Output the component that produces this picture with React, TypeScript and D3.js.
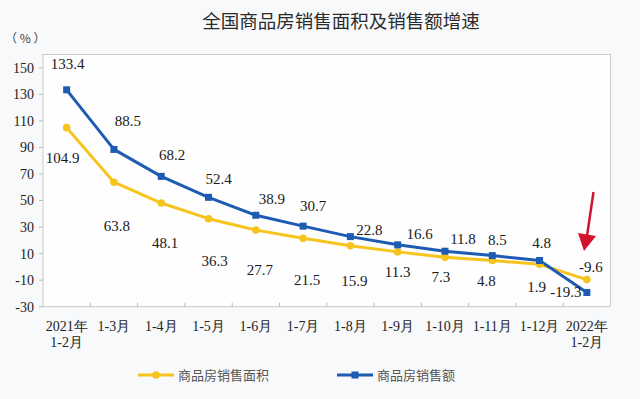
import React from "react";
import * as d3 from "d3";

const months = [
  "1-2月", "1-3月", "1-4月", "1-5月", "1-6月", "1-7月",
  "1-8月", "1-9月", "1-10月", "1-11月", "1-12月", "1-2月",
];
const yearLabels = ["2021年", "", "", "", "", "", "", "", "", "", "", "2022年"];
const areaGrowth = [104.9, 63.8, 48.1, 36.3, 27.7, 21.5, 15.9, 11.3, 7.3, 4.8, 1.9, -9.6];
const salesGrowth = [133.4, 88.5, 68.2, 52.4, 38.9, 30.7, 22.8, 16.6, 11.8, 8.5, 4.8, -19.3];
const yTicks = [150, 130, 110, 90, 70, 50, 30, 10, -10, -30];

// label placement, pixels from each point (hand placed like the original)
const salesLabelOffset = [
  [1, -26], [14, -29], [11, -22], [10, -19], [16, -16], [10, -20],
  [19, -7], [22, -11], [18, -12], [5, -16], [2, -18], [-21, -1],
];
const areaLabelOffset = [
  [-4, 30], [3, 44], [4, 40], [6, 42], [4, 40], [4, 41],
  [4, 35], [0, 20], [-4, 20], [-6, 20], [-3, 22], [4, -13],
];

const W = 640;
const H = 399;
const left = 43;
const right = 610.5;
const top = 54.5;
const bottom = 306.7;

const yellow = "#F6C41C";
const blue = "#1E5BB3";
const serif = "'Liberation Serif', 'Times New Roman', serif";
const cjk = "'Noto Sans CJK SC', sans-serif";

export default function App() {
  const x = d3.scaleBand<number>()
    .domain(d3.range(months.length))
    .range([left, right]);
  const y = d3.scaleLinear().domain([-30, 160]).range([bottom, top]);
  const cx = (i: number) => (x(i) as number) + x.bandwidth() / 2;

  const line = d3.line<number>()
    .x((_, i) => cx(i))
    .y((d) => y(d));

  const legendItems = [
    { name: "商品房销售面积", color: yellow, x: 138, square: false },
    { name: "商品房销售额", color: blue, x: 337, square: true },
  ];

  const num = { fontFamily: serif };

  return (
    <svg width={W} height={H} style={{ position: "absolute", left: 0, top: 0, display: "block" }}>
      <rect width={W} height={H} fill="#f8f9fb" />
      <rect x={left} y={top} width={right - left} height={bottom - top} fill="#fefefe" stroke="#c9c9c9" strokeWidth={1} />

      <text x={341} y={28} textAnchor="middle" style={{ fontFamily: cjk }} fontSize={18.5} fill="#2b2b2b">
        全国商品房销售面积及销售额增速
      </text>
      <text x={5} y={43} style={{ fontFamily: cjk }} fontSize={12} fill="#444">（ % ）</text>

      {yTicks.map((t) => (
        <g key={t}>
          <line x1={left - 4} x2={left} y1={y(t)} y2={y(t)} stroke="#bbb" />
          <text x={34} y={y(t)} dy="0.35em" textAnchor="end" style={num} fontSize={14} fill="#222">
            {t}
          </text>
        </g>
      ))}

      {d3.range(1, months.length).map((i) => (
        <line key={i} x1={x(i)} x2={x(i)} y1={bottom} y2={bottom - 4} stroke="#bbb" />
      ))}

      {months.map((m, i) => (
        <g key={i} style={num} fontSize={14} fill="#222" textAnchor="middle">
          {yearLabels[i] ? (
            <>
              <text x={cx(i)} y={331}>{yearLabels[i]}</text>
              <text x={cx(i)} y={347}>{m}</text>
            </>
          ) : (
            <text x={cx(i)} y={331}>{m}</text>
          )}
        </g>
      ))}

      <path d={line(areaGrowth) || ""} fill="none" stroke={yellow} strokeWidth={3} strokeLinejoin="round" />
      <path d={line(salesGrowth) || ""} fill="none" stroke={blue} strokeWidth={3} strokeLinejoin="round" />

      {areaGrowth.map((v, i) => (
        <circle key={i} cx={cx(i)} cy={y(v)} r={3.8} fill={yellow} />
      ))}
      {salesGrowth.map((v, i) => (
        <rect key={i} x={cx(i) - 3.5} y={y(v) - 3.5} width={7} height={7} fill={blue} />
      ))}

      {areaGrowth.map((v, i) => (
        <text key={i} x={cx(i) + areaLabelOffset[i][0]} y={y(v) + areaLabelOffset[i][1]} dy="0.35em"
          textAnchor="middle" style={num} fontSize={15} fill="#1a1a1a">
          {v.toFixed(1)}
        </text>
      ))}
      {salesGrowth.map((v, i) => (
        <text key={i} x={cx(i) + salesLabelOffset[i][0]} y={y(v) + salesLabelOffset[i][1]} dy="0.35em"
          textAnchor="middle" style={num} fontSize={15} fill="#1a1a1a">
          {v.toFixed(1)}
        </text>
      ))}

      {/* red arrow pointing at the last point */}
      <line x1={593.5} y1={192} x2={587} y2={236} stroke="#cf1631" strokeWidth={2.5} />
      <path d="M578,233 L596,236 L584,251 Z" fill="#d3132e" />

      {legendItems.map((d) => (
        <g key={d.name}>
          <line x1={d.x} x2={d.x + 36} y1={375} y2={375} stroke={d.color} strokeWidth={3} />
          {d.square ? (
            <rect x={d.x + 14.5} y={371.5} width={7} height={7} fill={d.color} />
          ) : (
            <circle cx={d.x + 18} cy={375} r={3.8} fill={d.color} />
          )}
          <text x={d.x + 40} y={375} dy="0.35em" style={{ fontFamily: cjk }} fontSize={13} fill="#555">
            {d.name}
          </text>
        </g>
      ))}
    </svg>
  );
}
